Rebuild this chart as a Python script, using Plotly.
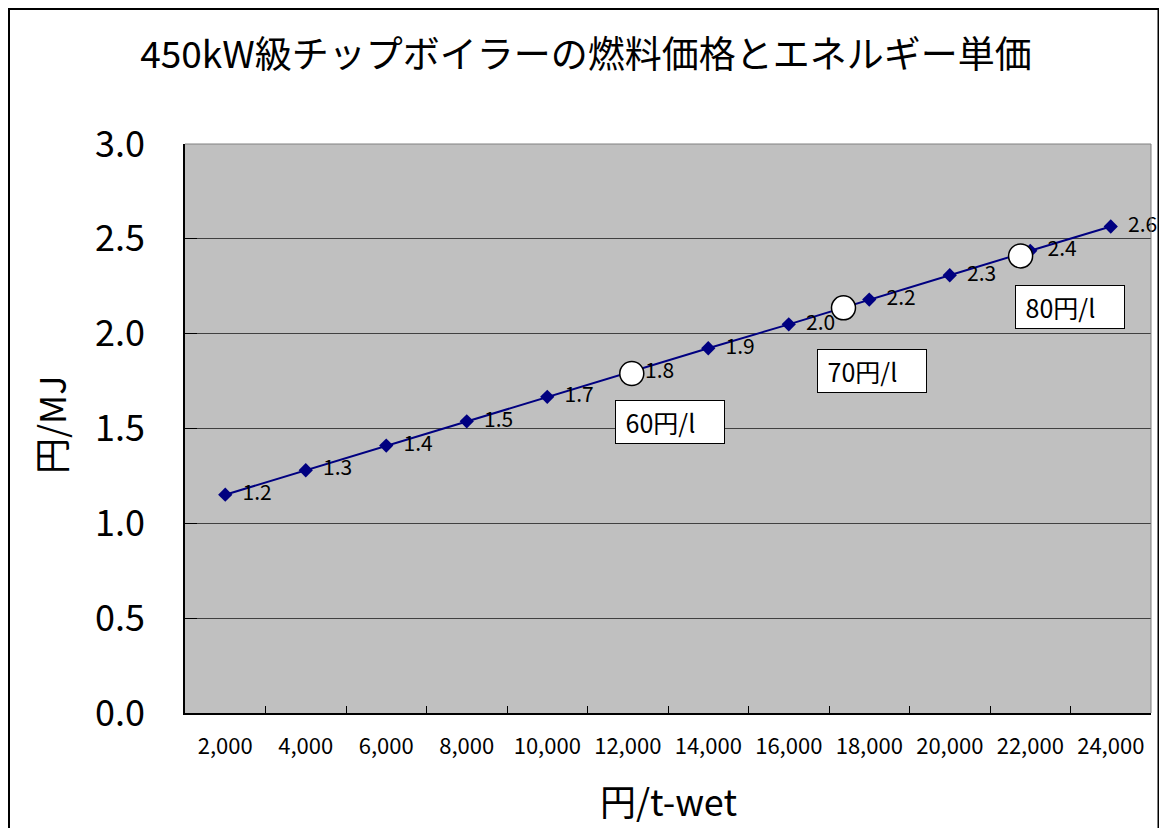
import plotly.graph_objects as go

# ---- data ----
chip_price_yen_per_t = [2000, 4000, 6000, 8000, 10000, 12000, 14000, 16000, 18000, 20000, 22000, 24000]
energy_unit_price = [1.151, 1.280, 1.410, 1.538, 1.667, 1.795, 1.923, 2.049, 2.180, 2.308, 2.437, 2.565]

kerosene_labels = ["60円/l", "70円/l", "80円/l"]
kerosene_equiv_chip_price = [12100, 17360, 21760]
kerosene_equiv_unit_price = [1.790, 2.136, 2.410]

x_tick_vals = [2000, 4000, 6000, 8000, 10000, 12000, 14000, 16000, 18000, 20000, 22000, 24000]
x_tick_text = ["2,000", "4,000", "6,000", "8,000", "10,000", "12,000", "14,000",
               "16,000", "18,000", "20,000", "22,000", "24,000"]
x_boundaries = [3000, 5000, 7000, 9000, 11000, 13000, 15000, 17000, 19000, 21000, 23000]

FONT = "Noto Sans CJK JP"
OFF = 8  # page body margin
W, H = 1167 - 2 * OFF, 836 - 2 * OFF
# screen-pixel layout of the plot area
SL, SR, ST, SB = 185, 1151, 144, 713
ML, MT = SL - OFF, ST - OFF
MR = W - (SR - OFF)
MB = H - (SB - OFF)
PW, PH = SR - SL, SB - ST


def px(sx):
    return (sx - SL) / PW


def py(sy):
    return (SB - sy) / PH


fig = go.Figure()

fig.add_trace(go.Scatter(
    x=chip_price_yen_per_t, y=energy_unit_price,
    mode="lines+markers+text",
    line=dict(color="#000080", width=2),
    marker=dict(symbol="diamond", size=11, color="#000080"),
    texttemplate="  %{y:.1f}",
    textposition="middle right",
    textfont=dict(family=FONT, size=21, color="black"),
    cliponaxis=False,
    showlegend=False,
    hoverinfo="skip",
))

fig.add_trace(go.Scatter(
    x=kerosene_equiv_chip_price, y=kerosene_equiv_unit_price,
    mode="markers",
    marker=dict(symbol="circle", size=24, color="white", line=dict(color="black", width=1.5)),
    showlegend=False,
    hoverinfo="skip",
))

box_offsets = [(38, -48), (29, -63), (49, -51)]
annotations = []
for lab, xv, yv, (dx, dy) in zip(kerosene_labels, kerosene_equiv_chip_price,
                                  kerosene_equiv_unit_price, box_offsets):
    annotations.append(dict(
        x=xv, y=yv, xref="x", yref="y", text=" " + lab, showarrow=False,
        xanchor="center", yanchor="middle",
        xshift=dx, yshift=dy, width=100, height=34, align="left", valign="middle",
        bgcolor="white", bordercolor="black", borderwidth=1, borderpad=4,
        font=dict(family=FONT, size=25, color="black"),
    ))

annotations.append(dict(
    x=px(668), y=py(800), xref="paper", yref="paper",
    xanchor="center", yanchor="middle",
    text="円/t-wet", showarrow=False,
    font=dict(family=FONT, size=36, color="black"),
))
annotations.append(dict(
    x=px(50), y=py(425), xref="paper", yref="paper",
    xanchor="center", yanchor="middle",
    text="円/MJ", showarrow=False, textangle=-90,
    font=dict(family=FONT, size=36, color="black"),
))

shapes = [
    dict(type="rect", xref="paper", yref="paper",
         x0=px(9), x1=px(1158.5),
         y0=py(900), y1=py(9),
         line=dict(color="black", width=2), fillcolor="rgba(0,0,0,0)", layer="above"),
    dict(type="line", xref="paper", yref="paper", x0=0, x1=1, y0=1, y1=1,
         line=dict(color="#808080", width=1), layer="above"),
    dict(type="line", xref="paper", yref="paper", x0=1, x1=1, y0=0, y1=1,
         line=dict(color="#808080", width=1), layer="above"),
]

fig.update_layout(
    width=W, height=H,
    margin=dict(l=ML, r=MR, t=MT, b=MB, pad=0),
    paper_bgcolor="white",
    plot_bgcolor="#C0C0C0",
    title=dict(text="450kW級チップボイラーの燃料価格とエネルギー単価",
               x=(586 - OFF) / W, xanchor="center", y=1 - (55 - OFF) / H, yanchor="middle",
               font=dict(family=FONT, size=37, color="black")),
    annotations=annotations,
    shapes=shapes,
    xaxis=dict(
        range=[1000, 25000], tickmode="array", tickvals=x_tick_vals, ticktext=x_tick_text,
        ticks="", showgrid=False, zeroline=False,
        showline=True, linecolor="black", linewidth=1.5,
        tickfont=dict(family=FONT, size=22, color="black"),
        ticklabelstandoff=13,
        minor=dict(tickmode="array", tickvals=x_boundaries, ticks="inside",
                   ticklen=7, tickcolor="black", tickwidth=1, showgrid=False),
    ),
    yaxis=dict(
        range=[0, 3], tickmode="linear", tick0=0, dtick=0.5, tickformat=".1f",
        showgrid=True, gridcolor="#404040", gridwidth=1, zeroline=False,
        showline=True, linecolor="black", linewidth=1.5,
        ticks="inside", ticklen=12, tickcolor="black", tickwidth=1,
        tickfont=dict(family=FONT, size=36, color="black"),
        ticklabelstandoff=31,
    ),
)

fig.write_html("out.html")
